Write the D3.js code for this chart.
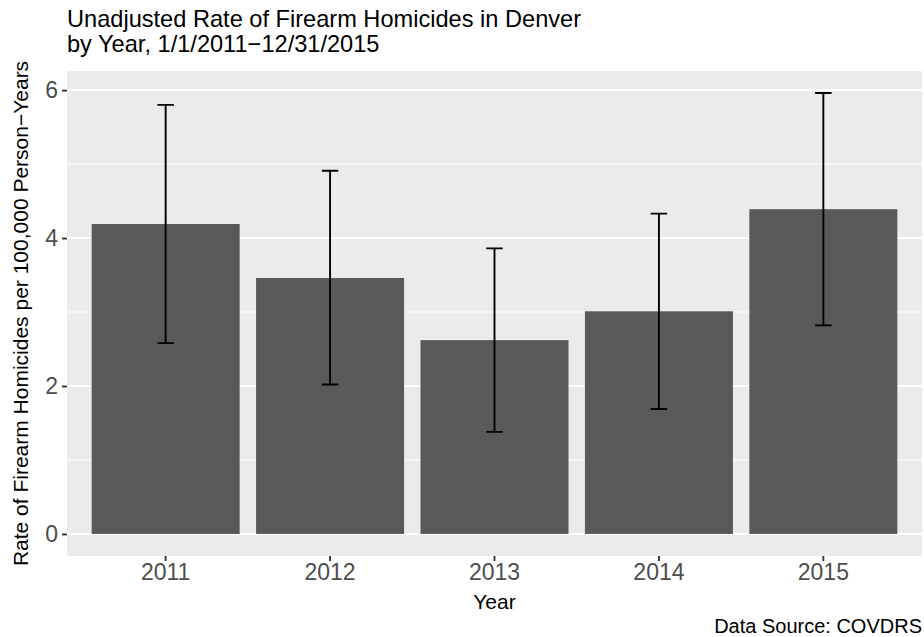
<!DOCTYPE html>
<html>
<head>
<meta charset="utf-8">
<script src="https://cdn.jsdelivr.net/npm/d3@7"></script>
<style>
  html, body { margin: 0; padding: 0; background: #fff; }
  svg { display: block; font-family: "Liberation Sans", Arial, sans-serif; }
</style>
</head>
<body>
<svg id="chart" width="924" height="637"></svg>
<script>
const years = ["2011", "2012", "2013", "2014", "2015"];
const rates = [4.19, 3.46, 2.62, 3.01, 4.39];
const lower = [2.58, 2.02, 1.38, 1.69, 2.82];
const upper = [5.80, 4.91, 3.86, 4.33, 5.96];
const majorTicks = [0, 2, 4, 6];
const minorTicks = [1, 3, 5];
const titleLines = ["Unadjusted Rate of Firearm Homicides in Denver", "by Year, 1/1/2011\u221212/31/2015"];
const xTitle = "Year";
const yTitle = "Rate of Firearm Homicides per 100,000 Person\u2212Years";
const caption = "Data Source: COVDRS";

const svg = d3.select("#chart");
const panel = { left: 67, right: 922, top: 71, bottom: 556 };

const x = d3.scaleBand().domain(years)
  .range([panel.left, panel.right])
  .paddingInner(0).paddingOuter(0.1);

const ymax = d3.max(upper), ymin = 0;
const pad = (ymax - ymin) * 0.05;
const y = d3.scaleLinear().domain([ymin - pad, ymax + pad]).range([panel.bottom, panel.top]);

// panel background
svg.append("rect")
  .attr("x", panel.left).attr("y", panel.top)
  .attr("width", panel.right - panel.left).attr("height", panel.bottom - panel.top)
  .attr("fill", "#EBEBEB");

// horizontal gridlines only
svg.append("g").selectAll("line").data(minorTicks).join("line")
  .attr("x1", panel.left).attr("x2", panel.right)
  .attr("y1", d => y(d)).attr("y2", d => y(d))
  .attr("stroke", "#fff").attr("stroke-width", 1);
svg.append("g").selectAll("line").data(majorTicks).join("line")
  .attr("x1", panel.left).attr("x2", panel.right)
  .attr("y1", d => y(d)).attr("y2", d => y(d))
  .attr("stroke", "#fff").attr("stroke-width", 2);

const data = years.map((yr, i) => ({ yr, rate: rates[i], lo: lower[i], hi: upper[i] }));
const bw = x.bandwidth();

// bars
svg.append("g").selectAll("rect").data(data).join("rect")
  .attr("x", d => x(d.yr) + bw * 0.05)
  .attr("width", bw * 0.9)
  .attr("y", d => y(d.rate))
  .attr("height", d => y(0) - y(d.rate))
  .attr("fill", "#595959");

// error bars
const eb = svg.append("g").attr("stroke", "#000").attr("stroke-width", 1.9).attr("fill", "none");
eb.selectAll("path").data(data).join("path")
  .attr("d", d => {
    const cx = x(d.yr) + bw / 2, hw = bw * 0.05;
    return `M${cx - hw},${y(d.hi)}H${cx + hw}M${cx},${y(d.hi)}V${y(d.lo)}M${cx - hw},${y(d.lo)}H${cx + hw}`;
  });

// y axis
const yAxis = d3.axisLeft(y).tickValues(majorTicks).tickSize(5).tickPadding(4).tickFormat(d3.format("d"));
const gy = svg.append("g").attr("transform", `translate(${panel.left},0)`).call(yAxis);
gy.select(".domain").remove();
gy.selectAll(".tick line").attr("stroke", "#333").attr("stroke-width", 1.9);
gy.selectAll(".tick text").attr("fill", "#4D4D4D").style("font-size", "23px")
  .style("font-family", "Liberation Sans, Arial, sans-serif");

// x axis
const xAxis = d3.axisBottom(x).tickSize(5).tickPadding(3);
const gx = svg.append("g").attr("transform", `translate(0,${panel.bottom})`).call(xAxis);
gx.select(".domain").remove();
gx.selectAll(".tick line").attr("stroke", "#333").attr("stroke-width", 1.9);
gx.selectAll(".tick text").attr("fill", "#4D4D4D").style("font-size", "23px")
  .style("font-family", "Liberation Sans, Arial, sans-serif");

// titles
const t = svg.append("text").attr("x", panel.left).attr("fill", "#000").style("font-size", "23.6px");
t.selectAll("tspan").data(titleLines).join("tspan")
  .attr("x", panel.left).attr("y", (d, i) => 27 + i * 24.5).text(d => d);

svg.append("text").attr("x", (panel.left + panel.right) / 2).attr("y", 609)
  .attr("text-anchor", "middle").style("font-size", "21px").attr("fill", "#000").text(xTitle);

svg.append("text")
  .attr("transform", `translate(28,${(panel.top + panel.bottom) / 2}) rotate(-90)`)
  .attr("text-anchor", "middle").style("font-size", "21px").attr("fill", "#000").text(yTitle);

svg.append("text").attr("x", panel.right).attr("y", 633)
  .attr("text-anchor", "end").style("font-size", "20px").attr("fill", "#000").text(caption);
</script>
</body>
</html>
